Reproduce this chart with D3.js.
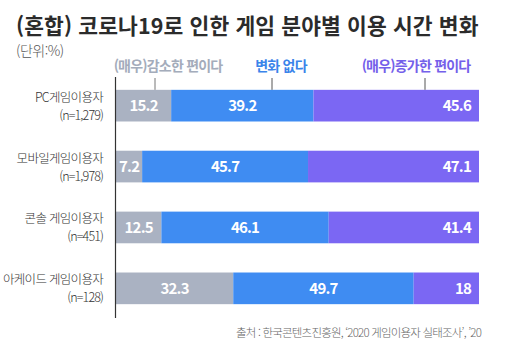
<!DOCTYPE html>
<html lang="ko">
<head>
<meta charset="UTF-8">
<title>코로나19로 인한 게임 분야별 이용 시간 변화</title>
<script src="https://cdn.jsdelivr.net/npm/d3@7"></script>
<style>
  body { margin: 0; background: #fff; }
  svg { font-family: "Noto Sans CJK KR", "Noto Sans", sans-serif; }
</style>
</head>
<body>
<svg id="chart" width="509" height="346"></svg>
<script>
// 응답 데이터 (%)
const groups = ["PC게임이용자", "모바일게임이용자", "콘솔 게임이용자", "아케이드 게임이용자"];
const samples = ["(n=1,279)", "(n=1,978)", "(n=451)", "(n=128)"];
const decrease = [15.2, 7.2, 12.5, 32.3];
const noChange = [39.2, 45.7, 46.1, 49.7];
const increase = [45.6, 47.1, 41.4, 18];
const seriesNames = ["(매우)감소한 편이다", "변화 없다", "(매우)증가한 편이다"];

const colors = ["#aab2c2", "#3f8cf2", "#7b67f3"];
const textColors = ["#a4acbb", "#3a84ea", "#7460ea"];

const svg = d3.select("#chart");

const x = d3.scaleLinear().domain([0, 100]).range([116, 479]);
const y = d3.scaleBand().domain(groups).range([74, 320]).paddingInner(0.48).paddingOuter(0.26);

// 제목
svg.append("text")
  .attr("x", 16).attr("y", 34)
  .attr("font-size", 21.5).attr("font-weight", 700).attr("fill", "#2b2b2b")
  .attr("letter-spacing", 0.1)
  .text("(혼합) 코로나19로 인한 게임 분야별 이용 시간 변화");
svg.append("text")
  .attr("x", 16).attr("y", 56)
  .attr("font-size", 14).attr("font-weight", 300).attr("fill", "#555")
  .attr("letter-spacing", -0.5)
  .text("(단위:%)");

// 누적 데이터
const rows = groups.map((g, i) => ({ group: g, n: samples[i], vals: [decrease[i], noChange[i], increase[i]] }));
const stackData = rows.map(r => {
  let acc = 0;
  return r.vals.map((v, k) => { const seg = { group: r.group, k, v, x0: acc, x1: acc + v }; acc += v; return seg; });
});

const rowG = svg.selectAll("g.row").data(stackData).enter().append("g").attr("class", "row");

rowG.selectAll("rect")
  .data(d => d).enter().append("rect")
  .attr("x", d => x(d.x0))
  .attr("y", d => y(d.group))
  .attr("width", d => x(d.x1) - x(d.x0))
  .attr("height", y.bandwidth())
  .attr("fill", d => colors[d.k]);

rowG.selectAll("text.val")
  .data(d => d).enter().append("text")
  .attr("class", "val")
  .attr("x", d => d.k === 2 ? x(d.x1) - 8 : (d.k === 0 && d.v < 10 ? x(d.x0) + 3 : (x(d.x0) + x(d.x1)) / 2))
  .attr("y", d => y(d.group) + y.bandwidth() / 2)
  .attr("dy", "0.36em")
  .attr("text-anchor", d => d.k === 2 ? "end" : (d.k === 0 && d.v < 10 ? "start" : "middle"))
  .attr("font-size", 15).attr("font-weight", 700).attr("fill", "#fff")
  .attr("letter-spacing", -0.8)
  .text(d => d.v);

// 세로 기준선
svg.append("line")
  .attr("x1", x(0) - 0.5).attr("x2", x(0) - 0.5)
  .attr("y1", 77).attr("y2", 318)
  .attr("stroke", "#333").attr("stroke-width", 1.2);

// 범주 라벨 (두 줄)
const lab = svg.selectAll("g.lab").data(rows).enter().append("g").attr("class", "lab");
lab.append("text")
  .attr("x", 103).attr("y", d => y(d.group) + y.bandwidth() / 2 - 4)
  .attr("text-anchor", "end").attr("font-size", 12.5).attr("font-weight", 300).attr("fill", "#333")
  .attr("letter-spacing", -0.7)
  .text(d => d.group);
lab.append("text")
  .attr("x", 103).attr("y", d => y(d.group) + y.bandwidth() / 2 + 14)
  .attr("text-anchor", "end").attr("font-size", 12.5).attr("font-weight", 300).attr("fill", "#333")
  .attr("letter-spacing", -0.9)
  .text(d => d.n);

// 범례 및 지시선
const legendX = [168, 281, 416];
const leaderX = [155, 272, 425];
const barTop = y(groups[0]);
seriesNames.forEach((name, k) => {
  svg.append("text")
    .attr("x", legendX[k]).attr("y", 71)
    .attr("text-anchor", "middle").attr("font-size", 14).attr("font-weight", 700)
    .attr("letter-spacing", -0.8)
    .attr("fill", textColors[k])
    .text(name);
  svg.append("line")
    .attr("x1", leaderX[k]).attr("x2", leaderX[k])
    .attr("y1", 78).attr("y2", barTop)
    .attr("stroke", k === 0 ? "#777" : "#555").attr("stroke-width", 1);
});

// 출처
svg.append("text")
  .attr("x", 481).attr("y", 337)
  .attr("text-anchor", "end").attr("font-size", 11.5).attr("font-weight", 300).attr("fill", "#666")
  .attr("letter-spacing", -0.8)
  .text("출처 : 한국콘텐츠진흥원, ‘2020 게임이용자 실태조사’, ’20");
</script>
</body>
</html>
